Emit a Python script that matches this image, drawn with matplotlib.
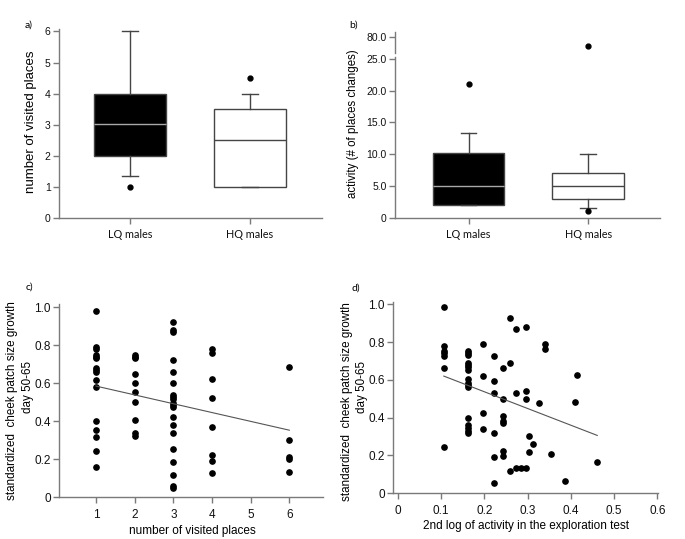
import numpy as np
import matplotlib
matplotlib.use('Agg')
import matplotlib.pyplot as plt
from matplotlib.ticker import FuncFormatter

plt.rcParams['font.family'] = ['Liberation Sans', 'DejaVu Sans']

groups = ['LQ males', 'HQ males']

# a) number of visited places, box summaries
places_lq = dict(whislo=1.35, q1=2.0, med=3.02, q3=4.0, whishi=6.0, fliers=[1.0])
places_hq = dict(whislo=1.0, q1=1.0, med=2.5, q3=3.5, whishi=4.0, fliers=[4.5])

# b) activity (# of places changes)
act_lq = dict(whislo=2.02, q1=2.02, med=5.1, q3=10.15, whishi=13.3, fliers=[21.0])
act_hq = dict(whislo=1.5, q1=3.0, med=5.0, q3=7.0, whishi=10.0, fliers=[1.1, 75.0])

# c) growth vs number of visited places
places_x = [1]*16 + [2]*10 + [3]*20 + [4]*8 + [6]*5
growth_c = [0.98, 0.79, 0.78, 0.75, 0.74, 0.73, 0.68, 0.67, 0.66, 0.615, 0.58, 0.40, 0.355, 0.315, 0.24, 0.16,
            0.75, 0.74, 0.73, 0.65, 0.60, 0.555, 0.50, 0.405, 0.335, 0.32,
            0.92, 0.88, 0.87, 0.72, 0.66, 0.60, 0.535, 0.525, 0.515, 0.495, 0.485, 0.475, 0.42, 0.38, 0.335,
            0.255, 0.185, 0.115, 0.06, 0.05,
            0.78, 0.76, 0.62, 0.52, 0.37, 0.22, 0.19, 0.125,
            0.685, 0.30, 0.21, 0.20, 0.13]
fit_c = (0.631, -0.0465)   # intercept, slope
fit_c_range = (1, 6)

# d) growth vs 2nd log of activity
log_act = ([0.106]*7 + [0.162]*16 + [0.197]*4 + [0.222]*6 + [0.243]*7 + [0.26]*3 + [0.273]*3 + [0.284]
           + [0.295]*4 + [0.303]*2 + [0.313, 0.326, 0.34, 0.34, 0.353, 0.387, 0.41, 0.415, 0.461])
growth_d = [0.985, 0.778, 0.753, 0.74, 0.728, 0.662, 0.243,
            0.753, 0.743, 0.729, 0.687, 0.676, 0.666, 0.651, 0.605, 0.584, 0.571, 0.56, 0.40, 0.36, 0.345, 0.33, 0.317,
            0.789, 0.62, 0.423, 0.338,
            0.725, 0.595, 0.528, 0.32, 0.19, 0.055,
            0.66, 0.497, 0.408, 0.384, 0.373, 0.225, 0.197,
            0.926, 0.687, 0.119,
            0.87, 0.528, 0.13,
            0.134,
            0.88, 0.539, 0.5, 0.13,
            0.303, 0.215,
            0.257, 0.475, 0.789, 0.764, 0.204, 0.063, 0.484, 0.623, 0.164]
fit_d = (0.7133, -0.8855)
fit_d_range = (0.106, 0.461)

spine_col = '#7a7a7a'
W, H = 685, 539
fig = plt.figure(figsize=(W/100, H/100), dpi=100)

def add_ax(l, t, r, b):
    return fig.add_axes([l/W, 1 - b/H, (r - l)/W, (b - t)/H])

def style(ax, size):
    for s in ['top', 'right']:
        ax.spines[s].set_visible(False)
    for s in ['left', 'bottom']:
        ax.spines[s].set_color(spine_col)
        ax.spines[s].set_linewidth(1)
    ax.tick_params(direction='out', length=4, width=1, color=spine_col, labelsize=size,
                   pad=2, labelcolor='#111111')

def zero_fmt(v, pos):
    return '0' if abs(v) < 1e-9 else '%.1f' % v

def draw_boxes(ax, stats, faces, meds):
    bp = ax.bxp(stats, positions=[1, 2], widths=0.6, capwidths=0.13, patch_artist=True,
                flierprops=dict(marker='o', markersize=3.5, markerfacecolor='k', markeredgecolor='k'),
                whiskerprops=dict(color='#444444', lw=1), capprops=dict(color='#444444', lw=1),
                boxprops=dict(edgecolor='#444444', lw=1), medianprops=dict(lw=1))
    for patch, fc in zip(bp['boxes'], faces):
        patch.set_facecolor(fc)
    for line, mc in zip(bp['medians'], meds):
        line.set_color(mc)

# panel a
ax_a = add_ax(59, 29, 322, 218)
draw_boxes(ax_a, [dict(places_lq, label=groups[0]), dict(places_hq, label=groups[1])],
           ['black', 'white'], ['#a8a8a8', '#444444'])
ax_a.set_xlim(0.41, 2.6)
ax_a.set_ylim(0, 6.08)
ax_a.set_yticks(range(0, 7))
style(ax_a, 7.5)
ax_a.set_xticks([1, 2])
ax_a.set_xticklabels(groups, fontfamily='Lato', fontsize=7.8)
ax_a.tick_params(axis='x', pad=4)

# panel b, broken y axis
ax_b = add_ax(395, 57, 660, 218)
ax_bt = add_ax(395, 32, 660, 53)
draw_boxes(ax_b, [dict(act_lq, label=groups[0]), dict(act_hq, label=groups[1])],
           ['black', 'white'], ['#a8a8a8', '#444444'])
ax_b.set_xlim(0.385, 2.6)
ax_b.set_ylim(0, 25.27)
ax_b.set_yticks([0, 5, 10, 15, 20, 25])
ax_b.yaxis.set_major_formatter(FuncFormatter(zero_fmt))
style(ax_b, 7.5)
ax_b.set_xticks([1, 2])
ax_b.set_xticklabels(groups, fontfamily='Lato', fontsize=7.8)
ax_b.tick_params(axis='x', pad=4)

big = [v for v in act_hq['fliers'] if v > 25]
ax_bt.plot([2]*len(big), big, 'o', color='k', markersize=3.5)
ax_bt.set_xlim(0.385, 2.6)
ax_bt.set_ylim(70.8, 82.9)
ax_bt.set_yticks([80])
ax_bt.yaxis.set_major_formatter(FuncFormatter(zero_fmt))
style(ax_bt, 7.5)
ax_bt.spines['bottom'].set_visible(False)
ax_bt.set_xticks([])
ax_bt.patch.set_alpha(0)

# panel c
ax_c = add_ax(59, 304, 323, 497)
ax_c.plot(places_x, growth_c, 'o', color='k', markersize=3.8)
xs = np.array(fit_c_range)
ax_c.plot(xs, fit_c[0] + fit_c[1]*xs, color='#555555', lw=0.8)
ax_c.set_xlim(0.043, 6.87)
ax_c.set_ylim(0, 1.017)
ax_c.set_xticks([1, 2, 3, 4, 5, 6])
ax_c.set_yticks([0, 0.2, 0.4, 0.6, 0.8, 1.0])
ax_c.yaxis.set_major_formatter(FuncFormatter(zero_fmt))
style(ax_c, 8.5)
ax_c.tick_params(axis='x', pad=5)

# panel d
ax_d = add_ax(393, 302, 658, 493)
ax_d.plot(log_act, growth_d, 'o', color='k', markersize=3.8)
xs = np.array(fit_d_range)
ax_d.plot(xs, fit_d[0] + fit_d[1]*xs, color='#555555', lw=0.8)
ax_d.set_xlim(-0.0116, 0.6016)
ax_d.set_ylim(0, 1.012)
ax_d.set_xticks([0, 0.1, 0.2, 0.3, 0.4, 0.5, 0.6])
ax_d.set_yticks([0, 0.2, 0.4, 0.6, 0.8, 1.0])
ax_d.xaxis.set_major_formatter(FuncFormatter(zero_fmt))
ax_d.yaxis.set_major_formatter(FuncFormatter(zero_fmt))
style(ax_d, 8.5)
ax_d.tick_params(axis='x', pad=5)

def ftext(x, y, s, **kw):
    fig.text(x/W, 1 - y/H, s, ha='center', va='center', **kw)

# panel letters
for lx, ly, s in [(29, 25, 'a)'), (354, 25, 'b)'), (29, 287, 'c)'), (356, 288, 'd)')]:
    ftext(lx, ly, s, fontfamily='Lato', fontsize=7.5)

# axis titles
ftext(31, 122, 'number of visited places', rotation=90, fontsize=9.5)
ftext(353, 124, 'activity (# of places changes)', rotation=90, fontsize=8.3)
ftext(12, 401, 'standardized  cheek patch size growth', rotation=90, fontsize=8.4)
ftext(28, 387, 'day 50-65', rotation=90, fontsize=8.4)
ftext(347, 402, 'standardized  cheek patch size growth', rotation=90, fontsize=8.4)
ftext(362, 387, 'day 50-65', rotation=90, fontsize=8.4)
ftext(192, 531, 'number of visited places', fontsize=8.5)
ftext(526, 526, '2nd log of activity in the exploration test', fontsize=8.5)

fig.savefig('out.png', dpi=100)
